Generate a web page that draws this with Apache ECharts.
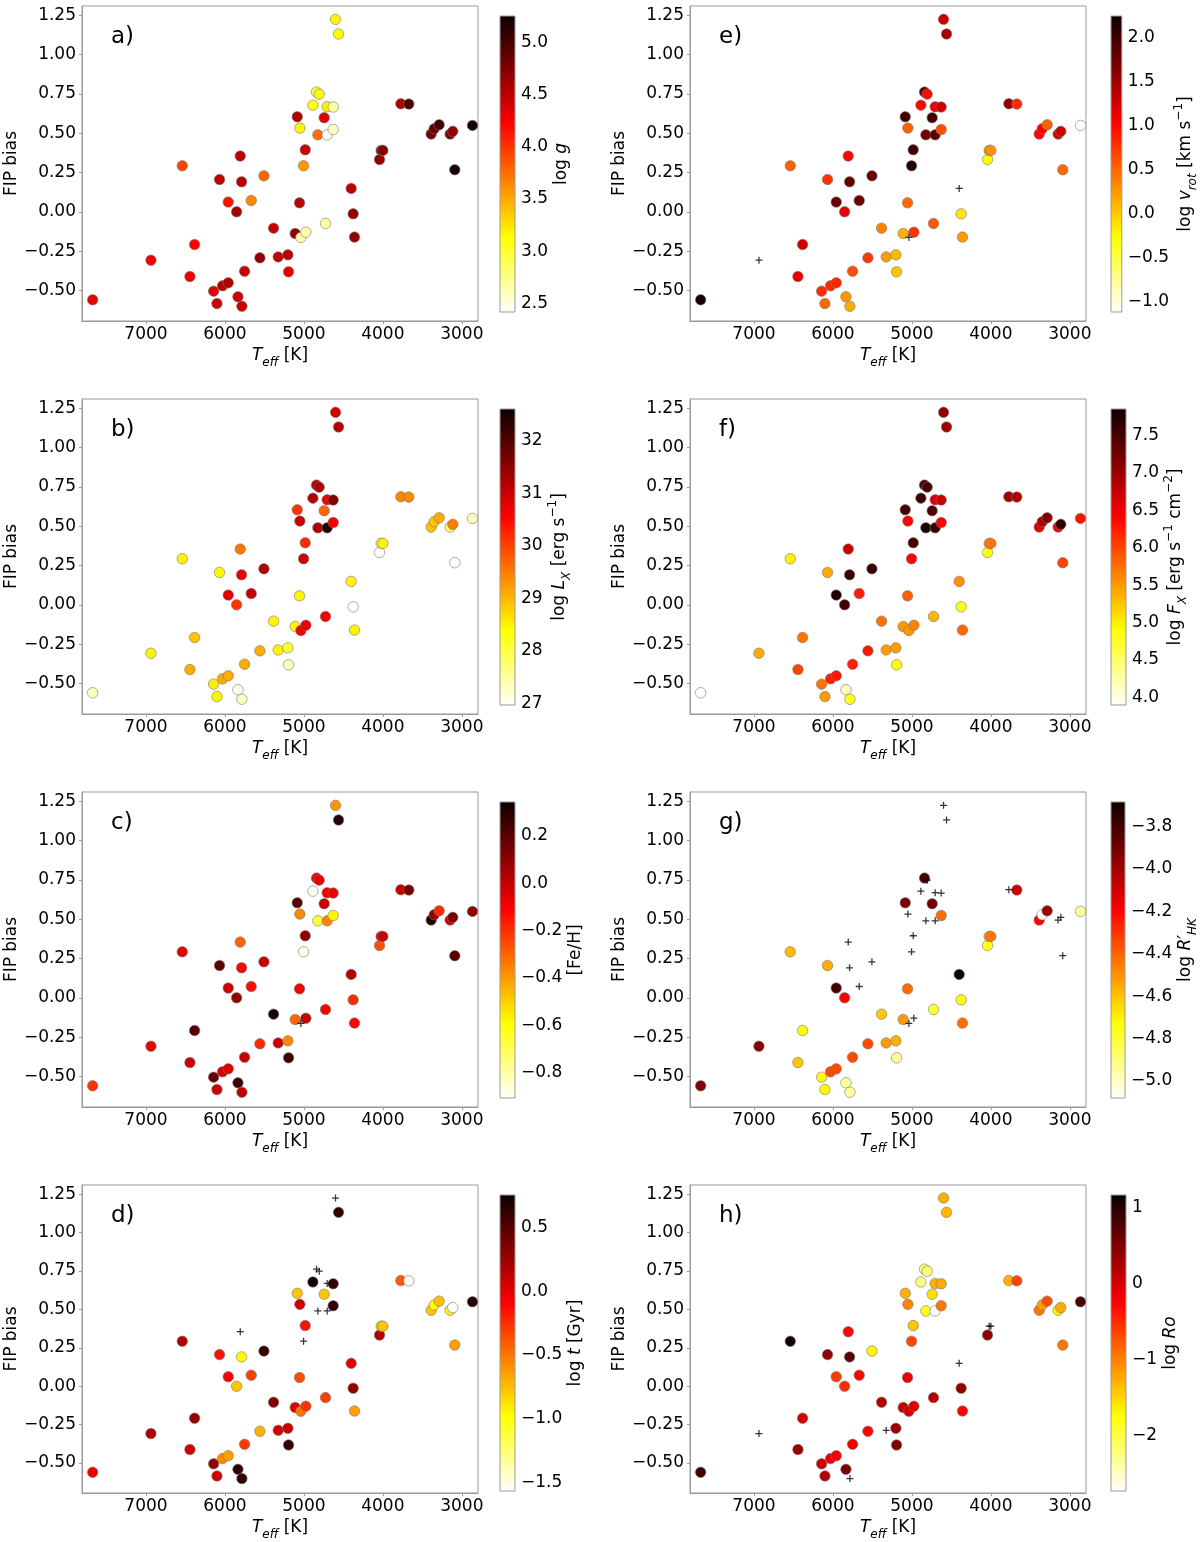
<!DOCTYPE html>
<html>
<head>
<meta charset="utf-8">
<script src="https://cdn.jsdelivr.net/npm/echarts@6/dist/echarts.min.js"></script>
<style>
  html, body { margin: 0; background: #fff; }
  #chart { width: 1200px; height: 1542px; }
</style>
</head>
<body>
<div id="chart"></div>
<script>
// star sample: effective temperature and FIP bias
const teff = [7675, 6937, 6540, 6384, 6443, 6143, 6101, 6030, 5958, 6068,
  5958, 5852, 5835, 5785, 5806, 5789, 5751, 5667, 5506, 5557,
  5384, 5325, 5203, 5194, 5084, 5051, 4983, 5004, 5055, 5110,
  5038, 4975, 4886, 4840, 4806, 4705, 4629, 4743, 4823, 4705,
  4629, 4726, 4599, 4561, 4401, 4376, 4359, 4042, 4021, 4000,
  3772, 3671, 3388, 3350, 3287, 3148, 3114, 3089, 2865]
const fip = [-0.56, -0.308, 0.293, -0.208, -0.412, -0.505, -0.584, -0.471, -0.452, 0.206,
  0.062, 0.0, -0.541, -0.601, 0.355, 0.191, -0.378, 0.072, 0.229, -0.293,
  -0.104, -0.287, -0.274, -0.382, 0.605, 0.533, 0.395, 0.293, 0.057, -0.138,
  -0.163, -0.130, 0.679, 0.762, 0.749, 0.669, 0.667, 0.599, 0.490, 0.490,
  0.524, -0.074, 1.225, 1.132, 0.149, -0.013, -0.161, 0.333, 0.391, 0.391,
  0.688, 0.686, 0.495, 0.529, 0.554, 0.495, 0.512, 0.268, 0.550]

// colour quantities (null = not available, drawn as +)
const logg = [4.32, 4.26, 3.92, 4.23, 4.29, 4.34, 4.43, 4.51, 4.54, 4.46,
  4.15, 4.60, 4.43, 4.43, 4.51, 4.51, 4.46, 3.64, 3.78, 4.68,
  4.46, 4.46, 4.51, 4.34, 4.54, 3.18, 4.43, 3.58, 4.51, 4.68,
  2.65, 2.65, 3.10, 2.93, 3.16, 3.21, 2.70, 4.34, 3.75, 2.44,
  2.59, 2.70, 3.18, 3.15, 4.51, 4.68, 4.68, 4.68, 4.68, 4.74,
  4.54, 4.97, 4.80, 4.85, 5.00, 4.78, 4.68, 5.20, 5.20]
const logLx = [27.3, 28.5, 28.5, 28.9, 29.1, 28.55, 28.5, 29.1, 29.1, 28.45,
  30.75, 30.1, 27.0, 27.35, 29.55, 30.7, 29.1, 31.0, 31.2, 29.1,
  28.5, 28.5, 28.1, 27.35, 30.1, 31.0, 30.2, 31.0, 28.5, 28.5,
  30.7, 30.75, 31.2, 31.2, 31.2, 30.6, 31.6, 29.7, 31.2, 32.4,
  30.6, 30.6, 30.9, 31.2, 28.5, 27.0, 28.5, 27.0, 27.9, 28.5,
  29.4, 29.4, 28.9, 28.9, 29.1, 27.8, 29.5, 27.0, 27.3]
const feh = [-0.21, -0.08, -0.06, 0.20, -0.02, 0.17, -0.02, -0.03, -0.06, 0.19,
  -0.02, 0.09, 0.25, -0.01, -0.30, -0.12, -0.01, -0.14, -0.02, -0.19,
  0.32, -0.02, -0.37, 0.24, 0.20, -0.37, 0.09, -0.88, -0.09, -0.30,
  null, -0.01, -0.90, -0.09, -0.07, -0.11, -0.09, -0.02, -0.66, -0.36,
  -0.57, -0.11, -0.39, 0.29, 0.02, -0.19, -0.12, -0.26, -0.02, -0.02,
  -0.01, 0.14, 0.30, 0.09, -0.19, -0.02, 0.13, 0.20, 0.09]
const logAge = [-0.03, 0.18, 0.18, 0.29, 0.08, 0.29, 0.08, -0.57, -0.64, -0.15,
  -0.08, -0.78, 0.62, 0.62, null, -0.96, -0.29, -0.31, 0.62, -0.71,
  0.34, 0.06, 0.11, 0.62, -0.78, 0.06, -0.15, null, -0.36, 0.01,
  -0.50, -0.27, 0.74, null, null, null, 0.62, -0.78, null, null,
  0.62, -0.31, null, 0.62, 0.01, 0.29, -0.64, 0.18, -0.82, -0.78,
  -0.40, -1.55, -0.78, -0.96, -0.75, -0.94, -1.55, -0.64, 0.64]
const logVrot = [2.18, null, 0.53, 1.27, 1.14, 0.80, 0.50, 0.80, 0.83, 0.77,
  1.78, 1.14, 0.26, 0.16, 1.00, 1.78, 0.63, 1.78, 1.78, 0.73,
  0.36, 0.23, 0.09, 0.03, 1.98, 0.53, 1.98, 2.12, 0.50, 0.13,
  null, 0.77, 1.00, 1.85, 0.97, 1.10, 1.24, 1.95, 1.74, 1.85,
  0.63, 0.57, 1.27, 1.47, null, -0.14, 0.26, -0.24, 0.26, 0.30,
  1.58, 0.80, 0.99, 1.03, 0.53, 1.24, 1.27, 0.50, -1.10]
const logFx = [3.92, 5.40, 5.00, 5.72, 6.00, 5.72, 5.48, 6.23, 6.27, 5.40,
  7.73, 7.53, 4.14, 4.81, 6.74, 7.57, 6.23, 6.23, 7.57, 6.27,
  5.72, 5.48, 5.48, 4.87, 7.49, 6.39, 7.49, 6.39, 5.84, 5.52,
  5.52, 5.64, 7.57, 7.49, 7.49, 6.59, 6.70, 7.45, 7.73, 7.57,
  6.39, 5.32, 7.06, 6.98, 5.56, 4.81, 5.80, 4.85, 5.56, 5.72,
  6.98, 6.86, 6.59, 6.86, 7.14, 6.51, 7.61, 6.00, 6.31]
const logRhk = [-3.94, -3.94, -4.58, -4.72, -4.61, -4.72, -4.72, -4.35, -4.35, -4.55,
  -3.81, -4.19, -4.94, -4.94, null, null, -4.35, null, null, -4.35,
  -4.61, -4.52, -4.56, -4.94, -3.92, null, null, null, -4.42, -4.52,
  null, null, null, -3.82, null, null, null, -3.90, null, null,
  -4.42, -4.80, null, null, -3.70, -4.74, -4.42, -4.76, -4.55, -4.44,
  null, -4.09, -4.19, -5.07, -3.99, null, null, null, -4.94]
const logRo = [0.85, null, 1.12, 0.00, 0.31, 0.03, 0.15, -0.16, -0.20, 0.38,
  -0.59, -0.51, 0.50, null, -0.28, 0.69, -0.16, -0.28, -1.67, -0.28,
  0.19, null, 0.31, 0.46, -1.28, -1.01, -1.40, -0.66, -0.16, 0.07,
  0.00, -0.08, -2.22, -2.18, -2.18, -1.28, -1.25, -1.56, -1.79, -2.70,
  -0.94, 0.15, -1.28, -1.32, null, 0.38, -0.25, 0.38, null, null,
  -1.28, -0.66, -0.94, -1.17, -0.70, -1.67, -1.25, -0.94, 0.81]

const xTicks = [3000, 4000, 5000, 6000, 7000]
const yTicks = [-0.5, -0.25, 0, 0.25, 0.5, 0.75, 1.0, 1.25]

const FONT = 'DejaVu Sans'
const GRAY = '#999'
const minus = (s) => s.replace('-', '\u2212')

// hot_r colormap
function hotR(t) {
  const x = 1 - t
  const r = Math.min(1, 0.0416 + x * (1 - 0.0416) / 0.365)
  const g = Math.min(1, Math.max(0, (x - 0.365) / 0.381))
  const b = Math.min(1, Math.max(0, (x - 0.746) / 0.254))
  return 'rgb(' + Math.round(r * 255) + ',' + Math.round(g * 255) + ',' + Math.round(b * 255) + ')'
}
const cmap = []
for (let i = 0; i <= 100; i++) cmap.push(hotR(i / 100))
const cbStops = [0, 0.254, 0.635, 1].map(t => ({ offset: t, color: hotR(t) }))

const rich = {
  n: { fontSize: 17, fontFamily: FONT, color: '#000', lineHeight: 26 },
  i: { fontSize: 17, fontFamily: FONT, fontStyle: 'italic', color: '#000', lineHeight: 26 },
  s: { fontSize: 12, fontFamily: FONT, fontStyle: 'italic', color: '#000', lineHeight: 12, verticalAlign: 'bottom' },
  p: { fontSize: 12, fontFamily: FONT, color: '#000', lineHeight: 12, verticalAlign: 'top' }
}

const panels = [
  { tag: 'a)', col: 0, row: 0, vals: logg, min: 2.42, max: 5.25, ticks: [2.5, 3.0, 3.5, 4.0, 4.5, 5.0], dec: 1, gap: 34,
    name: '{n|log }{i|g}' },
  { tag: 'b)', col: 0, row: 1, vals: logLx, min: 26.97, max: 32.6, ticks: [27, 28, 29, 30, 31, 32], dec: 0, gap: 30,
    name: '{n|log }{i|L}{s|X}{n| [erg s}{p|\u22121}{n|]}' },
  { tag: 'c)', col: 0, row: 2, vals: feh, min: -0.906, max: 0.342, ticks: [-0.8, -0.6, -0.4, -0.2, 0.0, 0.2], dec: 1, gap: 48,
    name: '{n|[Fe/H]}' },
  { tag: 'd)', col: 0, row: 3, vals: logAge, min: -1.57, max: 0.76, ticks: [-1.5, -1.0, -0.5, 0.0, 0.5], dec: 1, gap: 48,
    name: '{n|log }{i|t}{n| [Gyr]}' },
  { tag: 'e)', col: 1, row: 0, vals: logVrot, min: -1.12, max: 2.25, ticks: [-1.0, -0.5, 0.0, 0.5, 1.0, 1.5, 2.0], dec: 1, gap: 48,
    name: '{n|log }{i|v}{s|rot}{n| [km s}{p|\u22121}{n|]}' },
  { tag: 'f)', col: 1, row: 1, vals: logFx, min: 3.9, max: 7.85, ticks: [4.0, 4.5, 5.0, 5.5, 6.0, 6.5, 7.0, 7.5], dec: 1, gap: 34,
    name: '{n|log }{i|F}{s|X}{n| [erg s}{p|\u22121}{n| cm}{p|\u22122}{n|]}' },
  { tag: 'g)', col: 1, row: 2, vals: logRhk, min: -5.08, max: -3.685, ticks: [-5.0, -4.8, -4.6, -4.4, -4.2, -4.0, -3.8], dec: 1, gap: 48,
    name: '{n|log }{i|R\u2032}{s|HK}' },
  { tag: 'h)', col: 1, row: 3, vals: logRo, min: -2.72, max: 1.16, ticks: [-2, -1, 0, 1], dec: 0, gap: 32,
    name: '{n|log }{i|Ro}' }
]

const colLeft = [82, 690]
const cbLeft = [500, 1111]
const rowTop = [6, 399, 792, 1185]
const plotW = 396
const plotH = 315

const grid = [], xAxis = [], yAxis = [], series = [], visualMap = [], title = []

panels.forEach((p, k) => {
  const left = colLeft[p.col]
  const top = rowTop[p.row]
  const gi = grid.length

  // main scatter panel
  grid.push({ left: left, top: top, width: plotW, height: plotH, show: true, borderColor: GRAY, borderWidth: 1, backgroundColor: 'transparent' })
  xAxis.push({
    gridIndex: gi, type: 'value', min: 2795, max: 7810, inverse: true,
    axisLine: { show: true, onZero: false, lineStyle: { color: GRAY } },
    axisTick: { show: true, length: 3, customValues: xTicks, lineStyle: { color: GRAY } },
    axisLabel: { customValues: xTicks, fontSize: 17, fontFamily: FONT, color: '#000', margin: 5,
      formatter: v => String(v) },
    splitLine: { show: false },
    name: '{i|T}{s|eff}{n| [K]}', nameLocation: 'middle', nameGap: 22,
    nameTextStyle: { rich: rich }
  })
  yAxis.push({
    gridIndex: gi, type: 'value', min: -0.695, max: 1.31,
    axisLine: { show: true, onZero: false, lineStyle: { color: GRAY } },
    axisTick: { show: true, length: 3, customValues: yTicks, lineStyle: { color: GRAY } },
    axisLabel: { customValues: yTicks, fontSize: 17, fontFamily: FONT, color: '#000', margin: 6,
      formatter: v => minus(v.toFixed(2)) },
    splitLine: { show: false },
    name: 'FIP bias', nameLocation: 'middle', nameGap: 56, nameRotate: 90,
    nameTextStyle: { fontSize: 17, fontFamily: FONT, color: '#000' }
  })
  title.push({ text: p.tag, left: left + 24, top: top + 15,
    textStyle: { fontSize: 23, fontWeight: 'normal', fontFamily: FONT, color: '#000' } })

  const withVal = [], missing = []
  teff.forEach((t, i) => {
    if (p.vals[i] === null) missing.push([t, fip[i]])
    else withVal.push([t, fip[i], p.vals[i]])
  })
  visualMap.push({ type: 'continuous', show: false, seriesIndex: series.length, dimension: 2,
    min: p.min, max: p.max, inRange: { color: cmap } })
  series.push({
    type: 'scatter', xAxisIndex: gi, yAxisIndex: gi, data: withVal,
    symbol: 'circle', symbolSize: 10.5,
    itemStyle: { borderColor: '#777', borderWidth: 0.6, opacity: 1 }
  })
  series.push({
    type: 'scatter', xAxisIndex: gi, yAxisIndex: gi, data: missing,
    symbol: 'path://M4.1,0h1.8v10h-1.8zM0,4.1h10v1.8h-10z', symbolSize: 7,
    itemStyle: { color: '#000' }
  })

  // colour bar
  const ci = grid.length
  grid.push({ left: cbLeft[p.col], top: top + 10, width: 15, height: 296 })
  xAxis.push({ gridIndex: ci, type: 'value', min: 0, max: 1, show: false })
  yAxis.push({
    gridIndex: ci, type: 'value', position: 'right', min: p.min, max: p.max,
    axisLine: { show: false },
    axisTick: { show: true, length: 3, customValues: p.ticks, lineStyle: { color: GRAY } },
    axisLabel: { customValues: p.ticks, fontSize: 17, fontFamily: FONT, color: '#000', margin: 6,
      formatter: v => minus(v.toFixed(p.dec)) },
    splitLine: { show: false },
    name: p.name, nameLocation: 'middle', nameGap: p.gap, nameRotate: 90,
    nameTextStyle: { rich: rich }
  })
  series.push({
    type: 'custom', xAxisIndex: ci, yAxisIndex: ci, clip: false,
    data: [[p.min, p.max]],
    renderItem: (params, api) => {
      const lo = api.coord([0, api.value(0)])
      const hi = api.coord([1, api.value(1)])
      return {
        type: 'rect',
        shape: { x: lo[0], y: hi[1], width: hi[0] - lo[0], height: lo[1] - hi[1] },
        style: { fill: { type: 'linear', x: 0, y: 1, x2: 0, y2: 0, colorStops: cbStops }, stroke: GRAY, lineWidth: 1 }
      }
    }
  })
})

const chart = echarts.init(document.getElementById('chart'), null, { renderer: 'canvas' })
chart.setOption({
  animation: false,
  backgroundColor: '#fff',
  title: title,
  grid: grid,
  xAxis: xAxis,
  yAxis: yAxis,
  visualMap: visualMap,
  series: series
})
</script>
</body>
</html>
